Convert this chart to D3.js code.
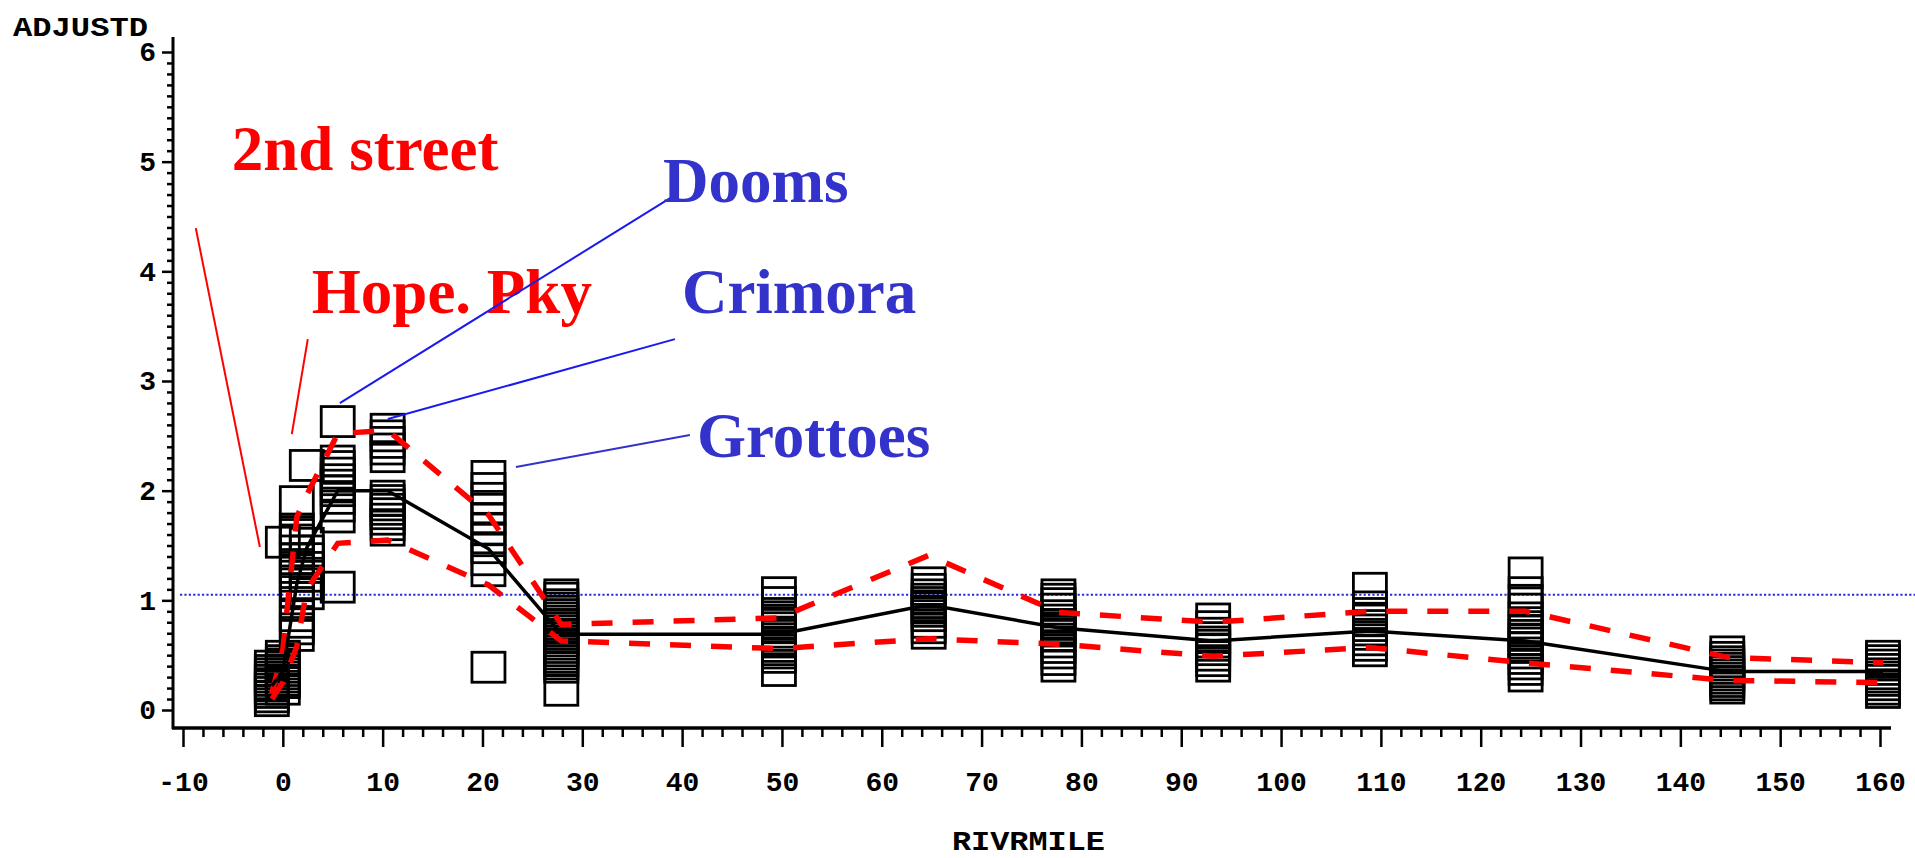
<!DOCTYPE html>
<html><head><meta charset="utf-8">
<script src="https://cdn.jsdelivr.net/npm/d3@7"></script>
<style>body{margin:0;background:#fff}svg{display:block}</style>
</head><body>
<svg id="c" width="1915" height="858"></svg>
<script>
// ---------------- data ----------------
const xMajorTicks = [-10,0,10,20,30,40,50,60,70,80,90,100,110,120,130,140,150,160];
const yMajorTicks = [0,1,2,3,4,5,6];
const xLabel = "RIVRMILE";
const yLabel = "ADJUSTD";

// river mile of each sampling site
const siteMiles = [-1.1, 0, 1.4, 2.4, 5.5, 10.5, 20.6, 27.9, 49.7, 64.7, 77.7, 93.2, 108.9, 124.5, 144.7, 160.3];
// ADJUSTD observations at each site
const siteValues = [
  [0.40,0.36,0.33,0.30,0.27,0.24,0.22,0.19,0.16,0.12,0.085],
  [0.49,0.45,0.42,0.39,0.36,0.33,0.30,0.27,0.25,0.19,1.53],
  [1.90,1.65,1.60,1.55,1.45,1.38,1.30,1.22,1.15,1.08,0.98,0.86,0.80,0.74,0.68],
  [2.23,1.52,1.45,1.38,1.30,1.22,1.15,1.06],
  [2.63,2.27,2.22,2.16,2.10,2.05,2.00,1.93,1.86,1.76,1.12],
  [2.56,2.50,2.44,2.38,2.31,1.95,1.91,1.87,1.83,1.79,1.74,1.69,1.64],
  [2.13,2.02,1.93,1.83,1.74,1.65,1.57,1.48,1.37,1.27,0.39],
  [1.05,1.02,0.96,0.93,0.90,0.87,0.84,0.81,0.78,0.75,0.72,0.69,0.66,0.63,0.60,0.57,0.54,0.51,0.48,0.45,0.42,0.39,0.18],
  [1.07,0.98,0.88,0.85,0.82,0.78,0.75,0.71,0.68,0.65,0.62,0.58,0.55,0.52,0.48,0.36],
  [1.16,1.10,1.05,1.01,0.98,0.95,0.93,0.90,0.86,0.80,0.75,0.70],
  [1.05,1.01,0.97,0.92,0.86,0.82,0.78,0.75,0.72,0.68,0.62,0.57,0.52,0.46,0.40],
  [0.83,0.76,0.70,0.66,0.62,0.59,0.55,0.50,0.45,0.40],
  [1.11,0.94,0.88,0.82,0.77,0.73,0.69,0.64,0.59,0.54],
  [1.25,1.07,1.00,0.92,0.84,0.76,0.72,0.68,0.64,0.61,0.57,0.52,0.47,0.42,0.37,0.31],
  [0.53,0.48,0.44,0.41,0.38,0.35,0.32,0.29,0.26,0.23,0.20],
  [0.49,0.45,0.41,0.37,0.33,0.30,0.27,0.23,0.19,0.16]
];
// fitted mean (black) and confidence limits (red dashed), one value per site
const meanValues  = [0.22,0.35,1.15,1.48,2.00,2.00,1.47,0.69,0.69,0.96,0.75,0.63,0.72,0.63,0.35,0.35];
const upperValues = [0.15,0.55,1.76,1.96,2.52,2.55,1.78,0.78,0.84,1.41,0.89,0.80,0.90,0.90,0.48,0.43];
const lowerValues = [0.10,0.25,0.58,1.10,1.52,1.55,1.14,0.63,0.56,0.65,0.60,0.49,0.57,0.43,0.27,0.25];
const refLevel = 1.05;

// annotations: text, colour group, label anchor, leader line start/end (data units)
const annoText  = ["2nd street","Hope. Pky","Dooms","Crimora","Grottoes"];
const annoGroup = ["red","red","blue","blue","blue"];
const annoLabelAt = [[-5.11,4.92],[2.91,3.62],[38.08,4.63],[39.98,3.62],[41.48,2.31]];
const annoFrom = [[-8.72,4.394],[2.50,3.382],[39.28,4.695],[39.28,3.382],[40.78,2.507]];
const annoTo   = [[-2.30,1.486],[0.90,2.516],[5.71,2.799],[10.52,2.653],[23.35,2.215]];

// ---------------- drawing ----------------
const svg = d3.select("#c");
const x = d3.scaleLinear().domain([-10,160]).range([183,1880]);
const y = d3.scaleLinear().domain([0,6]).range([710,52]);
const colors = {red:"#ff0000", blue:"#3333cc", blueLine:"#1a1aee"};
const tickFont = "'Liberation Mono', 'DejaVu Sans Mono', monospace";

// Y axis
const yAxisG = svg.append("g").attr("transform","translate(173,0)");
yAxisG.call(d3.axisLeft(y).tickValues(d3.range(0,6.01,0.1).filter(v=>Math.abs(v-Math.round(v))>1e-6)).tickSize(6).tickFormat(""));
yAxisG.call(g=>g.select(".domain").remove());
const yMaj = svg.append("g").attr("transform","translate(173,0)")
  .call(d3.axisLeft(y).tickValues(yMajorTicks).tickSize(11).tickPadding(6).tickFormat(d3.format("d")));
yMaj.select(".domain").remove();
yMaj.selectAll("text").attr("font-family",tickFont).attr("font-weight","bold").attr("font-size",28).attr("fill","#000");
svg.append("line").attr("x1",173).attr("x2",173).attr("y1",37).attr("y2",729).attr("stroke","#000").attr("stroke-width",3);

// X axis
const xMin = svg.append("g").attr("transform","translate(0,728)")
  .call(d3.axisBottom(x).tickValues(d3.range(-10,160.1,2).filter(v=>v%10!==0)).tickSize(9).tickFormat(""));
xMin.select(".domain").remove();
const xMaj = svg.append("g").attr("transform","translate(0,728)")
  .call(d3.axisBottom(x).tickValues(xMajorTicks).tickSize(19).tickPadding(24).tickFormat(d3.format("d")));
xMaj.select(".domain").remove();
svg.selectAll("g .tick line").attr("stroke","#000").attr("stroke-width",2.5);
xMaj.selectAll("text").attr("font-family",tickFont).attr("font-weight","bold").attr("font-size",28).attr("fill","#000")
  .text(d=>d<0? "-"+Math.abs(d): d);
svg.append("line").attr("x1",172).attr("x2",1891).attr("y1",728).attr("y2",728).attr("stroke","#000").attr("stroke-width",3.5);

// axis titles
svg.append("text").attr("x",13).attr("y",36).attr("textLength",135).attr("lengthAdjust","spacingAndGlyphs")
  .attr("font-family",tickFont).attr("font-weight","bold").attr("font-size",28).text(yLabel);
svg.append("text").attr("x",952).attr("y",850).attr("textLength",153).attr("lengthAdjust","spacingAndGlyphs")
  .attr("font-family",tickFont).attr("font-weight","bold").attr("font-size",27).text(xLabel);

// reference dotted line
svg.append("line").attr("x1",180).attr("x2",1915).attr("y1",y(refLevel)).attr("y2",y(refLevel))
  .attr("stroke","#2a2ad8").attr("stroke-width",2).attr("stroke-dasharray","2.2,2.2");

// observation squares
const pts = [];
siteMiles.forEach((m,i)=>siteValues[i].forEach(v=>pts.push({m,v})));
svg.append("g").selectAll("rect").data(pts).join("rect")
  .attr("x",d=>x(d.m)-16.5).attr("y",d=>y(d.v)-15).attr("width",33).attr("height",30)
  .attr("fill","none").attr("stroke","#000").attr("stroke-width",2.8);

// mean line and limits
const lineOf = vals => d3.line().x((d,i)=>x(siteMiles[i])).y(d=>y(d))(vals);
svg.append("path").attr("d",lineOf(upperValues)).attr("fill","none").attr("stroke","#ff0000")
  .attr("stroke-width",5.5).attr("stroke-dasharray","21,20");
svg.append("path").attr("d",lineOf(lowerValues)).attr("fill","none").attr("stroke","#ff0000")
  .attr("stroke-width",5.5).attr("stroke-dasharray","21,20");
svg.append("path").attr("d",lineOf(meanValues)).attr("fill","none").attr("stroke","#000")
  .attr("stroke-width",3.5);

// annotations
annoText.forEach((t,i)=>{
  const c = annoGroup[i]==="red"? colors.red : colors.blue;
  const lc = annoGroup[i]==="red"? colors.red : (i===4? colors.blue : colors.blueLine);
  svg.append("line").attr("x1",x(annoFrom[i][0])).attr("y1",y(annoFrom[i][1]))
    .attr("x2",x(annoTo[i][0])).attr("y2",y(annoTo[i][1])).attr("stroke",lc).attr("stroke-width",2);
  svg.append("text").attr("x",x(annoLabelAt[i][0])).attr("y",y(annoLabelAt[i][1]))
    .attr("font-family","'Liberation Serif','Times New Roman',serif").attr("font-weight","bold")
    .attr("font-size",63).attr("fill",c).text(t);
});
</script>
</body></html>
